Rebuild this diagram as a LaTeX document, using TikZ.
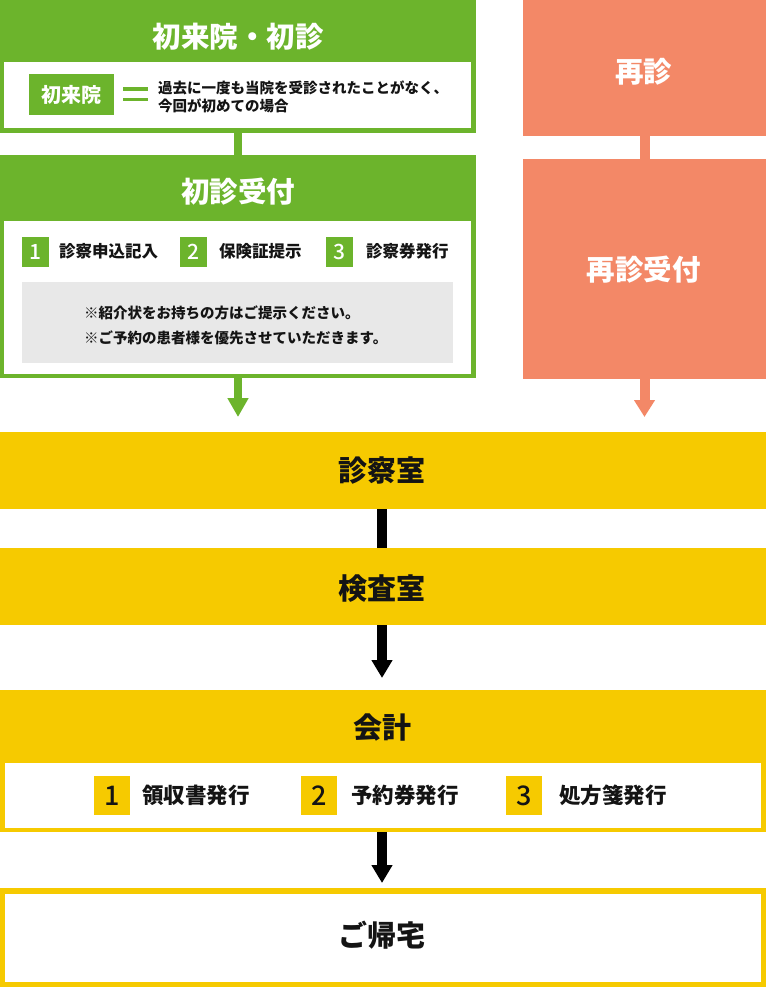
\documentclass[tikz,border=0pt]{standalone}
\usepackage{fontspec}
\setmainfont{Noto Sans CJK JP}
\newfontfamily\medfont{Noto Sans CJK JP Medium}
\usetikzlibrary{arrows.meta}
\definecolor{gr}{RGB}{108,180,44}
\definecolor{sa}{RGB}{243,136,103}
\definecolor{ye}{RGB}{246,202,0}
\definecolor{gy}{RGB}{232,232,232}
\definecolor{tx}{RGB}{20,20,20}
\newcommand\myfs[1]{\fontsize{#1}{#1}\selectfont}
\tikzset{
  box/.style={inner sep=0pt, outer sep=0pt, draw=none, anchor=north west},
  hd/.style={inner sep=0pt, font=\myfs{28.5}\bfseries, text=white},
  hdk/.style={inner sep=0pt, font=\myfs{29}\bfseries, text=tx},
  gnum/.style={inner sep=0pt, outer sep=0pt, fill=gr, text=white, minimum width=27pt, minimum height=30pt, font=\myfs{21}\medfont},
  ynum/.style={inner sep=0pt, outer sep=0pt, fill=ye, text=tx, minimum width=36pt, minimum height=39pt, font=\myfs{27}\medfont},
  gitem/.style={inner sep=0pt, anchor=west, text=tx, font=\myfs{16.5}\bfseries},
  yitem/.style={inner sep=0pt, anchor=west, text=tx, font=\myfs{21.5}\bfseries},
  small/.style={inner sep=0pt, anchor=west, text=tx, font=\myfs{14.5}\bfseries},
  garr/.style={draw=gr, line width=8pt, -{Triangle[width=20pt,length=19pt]}},
  sarr/.style={draw=sa, line width=10pt, -{Triangle[width=20pt,length=17pt]}},
  karr/.style={draw=black, line width=10pt, -{Triangle[width=20pt,length=18pt]}},
}
\begin{document}
\begin{tikzpicture}[x=1pt,y=-1pt]
\useasboundingbox (0,0) rectangle (766,987);
% ---------- green: first visit ----------
\node[box, fill=gr, minimum width=476pt, minimum height=133pt] (b1) at (0,0) {};
\node[box, fill=white, minimum width=467pt, minimum height=66pt] (b1w) at (4,62) {};
\node[hd] (t1) at (238,37) {初来院・初診};
\node[box, fill=gr, minimum width=85pt, minimum height=41pt] (lab) at (29,74) {};
\node[inner sep=0pt, text=white, font=\myfs{20}\bfseries] (labt) at (lab.center) {初来院};
\node[box, fill=gr, minimum width=25pt, minimum height=3.6pt] (eq1) at (123,87.3) {};
\node[box, fill=gr, minimum width=25pt, minimum height=3.6pt] (eq2) at (123,97.7) {};
\node[small] (d1) at (158,87.5) {過去に一度も当院を受診されたことがなく、};
\node[small] (d2) at (158,106) {今回が初めての場合};

\node[box, fill=gr, minimum width=476pt, minimum height=223pt] (b2) at (0,155) {};
\node[box, fill=white, minimum width=467pt, minimum height=152.5pt] (b2w) at (4,221) {};
\node[hd] (t2) at (238,192) {初診受付};
\node[gnum] (g1) at (35.5,252) {1};
\node[gitem] (g1t) at (59,251.5) {診察申込記入};
\node[gnum] (g2) at (193.5,252) {2};
\node[gitem] (g2t) at (219,251.5) {保険証提示};
\node[gnum] (g3) at (339,252) {3};
\node[gitem] (g3t) at (366,251.5) {診察券発行};
\node[box, fill=gy, minimum width=431pt, minimum height=81pt] (note) at (22,282) {};
\node[small] (n1) at (84,313) {※紹介状をお持ちの方はご提示ください。};
\node[small] (n2) at (84,338) {※ご予約の患者様を優先させていただきます。};

\draw[draw=gr, line width=8pt] (b1.south) -- (b2.north);
\coordinate (ga) at (238,417);
\draw[garr] (b2.south) -- (ga);

% ---------- salmon: revisit ----------
\node[box, fill=sa, minimum width=243pt, minimum height=136pt] (r1) at (523,0) {};
\node[hd] (rt1) at (643.5,71.5) {再診};
\node[box, fill=sa, minimum width=243pt, minimum height=220pt] (r2) at (523,159) {};
\node[hd] (rt2) at (643.5,270) {再診受付};
\draw[draw=sa, line width=10pt] (r1.south) -- (r2.north);
\coordinate (sa) at (644.5,417);
\draw[sarr] (r2.south) -- (sa);

% ---------- yellow flow ----------
\node[box, fill=ye, minimum width=766pt, minimum height=77pt] (y1) at (0,432) {};
\node[hdk] (y1t) at (382,471) {診察室};
\node[box, fill=ye, minimum width=766pt, minimum height=77pt] (y2) at (0,548) {};
\node[hdk] (y2t) at (382,589) {検査室};
\draw[draw=black, line width=10pt] (y1.south -| y1t) -- (y2.north -| y1t);
\coordinate (ka) at (382,678);
\draw[karr] (y2.south -| y2t) -- (ka);

\node[box, fill=ye, minimum width=766pt, minimum height=142pt] (y3) at (0,690) {};
\node[box, fill=white, minimum width=756.5pt, minimum height=64.5pt] (y3w) at (4.5,763) {};
\node[hdk] (y3t) at (382,727.5) {会計};
\node[ynum] (k1) at (112,795.5) {1};
\node[yitem] (k1t) at (142,795) {領収書発行};
\node[ynum] (k2) at (319,795.5) {2};
\node[yitem] (k2t) at (351,795) {予約券発行};
\node[ynum] (k3) at (524,795.5) {3};
\node[yitem] (k3t) at (559,795) {処方箋発行};

\node[box, fill=ye, minimum width=766pt, minimum height=99pt] (y4) at (0,888) {};
\node[box, fill=white, minimum width=756pt, minimum height=88pt] (y4w) at (5,894) {};
\node[hdk] (y4t) at (382,935.5) {ご帰宅};
\coordinate (kb) at (382,883);
\draw[karr] (y3.south -| y3t) -- (kb);
\end{tikzpicture}
\end{document}
